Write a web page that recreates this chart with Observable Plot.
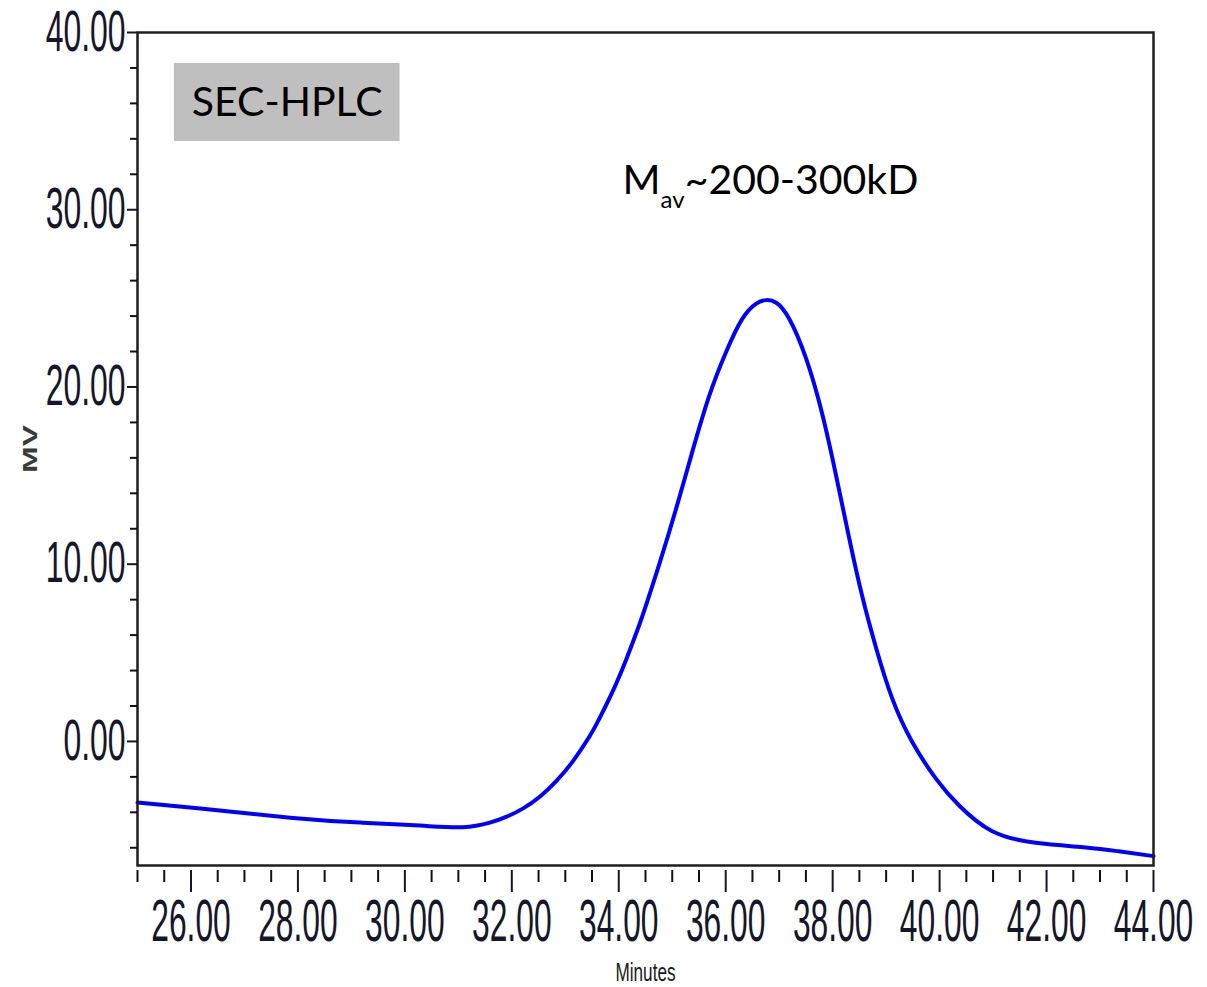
<!DOCTYPE html>
<html>
<head>
<meta charset="utf-8">
<script src="https://cdn.jsdelivr.net/npm/d3@7"></script>
<script src="https://cdn.jsdelivr.net/npm/@observablehq/plot@0.6"></script>
<style>
  html, body { margin: 0; padding: 0; background: #fff; }
  #chart svg { display: block; }
</style>
</head>
<body>
<div id="chart"></div>
<script>
// Trace (Minutes vs MV)
const minutes = [25.000, 26.176, 27.856, 29.163, 30.282, 31.085, 31.588, 31.906, 32.205, 32.522,
                 32.839, 33.137, 33.455, 33.641, 33.884, 34.145, 34.388, 34.518, 34.761, 35.078,
                 35.376, 35.693, 36.011, 36.310, 36.571, 36.758, 36.945, 37.187, 37.504, 37.803,
                 38.064, 38.307, 38.550, 38.811, 39.110, 39.483, 39.931, 40.360, 40.976, 41.797,
                 42.730, 43.346, 44.000];
const mv = [-3.45, -3.79, -4.30, -4.58, -4.75, -4.84, -4.58, -4.24, -3.79, -3.12,
            -2.21, -1.14, 0.29, 1.31, 2.81, 4.67, 6.61, 7.76, 10.03, 13.19,
            16.35, 19.51, 22.00, 23.84, 24.70, 24.90, 24.75, 23.85, 21.60, 18.50,
            15.00, 11.50, 8.23, 5.29, 2.46, 0.00, -2.10, -3.60, -5.05, -5.72,
            -5.98, -6.20, -6.47];

// Axis ticks
const xMajor = [26, 28, 30, 32, 34, 36, 38, 40, 42, 44];
const xMinor = [25, 25.5, 26.5, 27, 27.5, 28.5, 29, 29.5, 30.5, 31, 31.5, 32.5, 33, 33.5,
                34.5, 35, 35.5, 36.5, 37, 37.5, 38.5, 39, 39.5, 40.5, 41, 41.5, 42.5, 43, 43.5];
const yMajor = [0, 10, 20, 30, 40];
const yMinor = [-6, -4, -2, 2, 4, 6, 8, 12, 14, 16, 18, 22, 24, 26, 28, 32, 34, 36, 38];

// Annotations
const labelBox = [{x1: 25.69, x2: 29.91, y1: 33.85, y2: 38.25}];
const boxText = [{x: 27.80, y: 36.05, text: "SEC-HPLC"}];
const massNote = [{x: 34.07, y: 31.65, text: "Mav~200-300kD"}];
const xTitle = ["Minutes"];
const yTitle = ["MV"];

const trace = minutes.map((m, i) => ({minutes: m, mv: mv[i]}));

const tickFont = "Liberation Sans, Arial, sans-serif";

const chart = Plot.plot({
  width: 1207,
  height: 987,
  marginLeft: 137,
  marginRight: 54,
  marginTop: 32,
  marginBottom: 122,
  x: {domain: [25, 44]},
  y: {domain: [-7, 40]},
  style: {background: "white"},
  marks: [
    Plot.rect(labelBox, {x1: "x1", x2: "x2", y1: "y1", y2: "y2", fill: "#bfbfbf"}),
    Plot.text(boxText, {x: "x", y: "y", text: "text", fontFamily: "Lato", fontSize: 41, fill: "#000"}),
    Plot.text(massNote, {x: "x", y: "y", text: "text", textAnchor: "start", fontFamily: "Lato",
                         fontSize: 41, fill: "#000"}),
    Plot.line(trace, {x: "minutes", y: "mv", stroke: "#0000ff", strokeWidth: 4, curve: "natural"}),
    Plot.frame({stroke: "#1e1e1e", strokeWidth: 2.5}),
    Plot.axisY(yMinor, {tickSize: 7, tickFormat: () => "", label: null, color: "#111", strokeWidth: 2}),
    Plot.axisY(yMajor, {tickSize: 10, tickPadding: 2, tickFormat: d => d.toFixed(2), label: null,
                        color: "#16162a", strokeWidth: 2, fontSize: 57, fontFamily: tickFont}),
    Plot.axisX(xMinor, {tickSize: 12, dy: 5, tickFormat: () => "", label: null, color: "#111", strokeWidth: 2}),
    Plot.axisX(xMajor, {tickSize: 22, dy: 5, tickPadding: 6, tickFormat: d => d.toFixed(2), label: null,
                        color: "#16162a", strokeWidth: 2, fontSize: 60, fontFamily: tickFont}),
    Plot.text(yTitle, {frameAnchor: "left", textAnchor: "middle", dx: -107, rotate: -90, text: d => d,
                       fontSize: 20, fontWeight: "bold", fontFamily: tickFont, fill: "#3a3a3a"}),
    Plot.text(xTitle, {frameAnchor: "bottom", dy: 115, text: d => d, fontSize: 26,
                       fontFamily: tickFont, fill: "#1a1a1a"})
  ]
});

document.getElementById("chart").appendChild(chart);

const svg = d3.select(chart);

// Horizontal squeeze/stretch of text around its anchor, keeping it real text
function squeeze(nodes, sx) {
  nodes.each(function () {
    let shift = "";
    const y = this.getAttribute("y");
    if (y !== null) {
      this.removeAttribute("y");
      if (!this.getAttribute("dy")) this.setAttribute("dy", y);
    }
    const x = this.getAttribute("x");
    if (x !== null) {
      this.removeAttribute("x");
      if (/^-?[\d.]+$/.test(x)) shift = ` translate(${x},0)`;
      else if (!this.getAttribute("dx")) this.setAttribute("dx", x);
    }
    const t = this.getAttribute("transform") || "";
    this.setAttribute("transform", `${t}${shift} scale(${sx},1)`);
  });
}
function byText(t) {
  return svg.selectAll("text").filter(function () { return this.textContent === t; });
}
try {
  squeeze(svg.selectAll('g[aria-label="y-axis tick label"] text'), 0.56);
  squeeze(svg.selectAll('g[aria-label="x-axis tick label"] text'), 0.53);
  squeeze(byText(yTitle[0]), 1.6);
  squeeze(byText(xTitle[0]), 0.66);

  // Subscript for M_av
  const mt = byText(massNote[0].text);
  mt.text(null);
  mt.append("tspan").text("M");
  mt.append("tspan").attr("dy", 14).attr("font-size", 24).text("av");
  mt.append("tspan").attr("dy", -14).text("~200-300kD");
} catch (e) {
  console.error(e);
}
</script>
</body>
</html>
